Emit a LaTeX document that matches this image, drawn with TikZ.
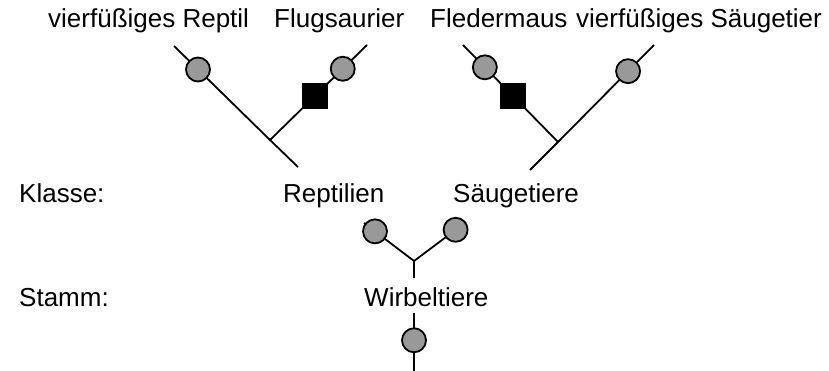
\documentclass[tikz,border=0pt]{standalone}
\usepackage{fontspec}
\setmainfont{Liberation Sans}
\usetikzlibrary{positioning}

\definecolor{merkmalgrau}{RGB}{153,153,153}

\tikzset{
  merkmal/.style={circle, draw=black, line width=1.8pt, fill=merkmalgrau,
    minimum size=24pt, inner sep=0pt},
  neu/.style={rectangle, fill=black, minimum size=26pt, inner sep=0pt},
  taxon/.style={anchor=base west, inner sep=0pt,
    font=\fontsize{26}{31}\selectfont},
  ast/.style={line width=1.8pt}
}

\begin{document}
\begin{tikzpicture}[x=1pt,y=-1pt]
              \useasboundingbox (0,0) rectangle (829,371);

              % Arten
              \node[taxon] (reptil) at (48,28) {vierfüßiges Reptil};
              \node[taxon] (flugsaurier) at (274,28) {Flugsaurier};
              \node[taxon] (fledermaus) at (430,28) {Fledermaus};
              \node[taxon] (saeuger) at (576,28) {vierfüßiges Säugetier};

              % Klassen und Stamm
              \node[taxon] (klasse) at (19,203) {Klasse:};
              \node[taxon] (reptilien) at (283,203) {Reptilien};
              \node[taxon] (saeugetiere) at (453,203) {Säugetiere};
              \node[taxon] (stamm) at (19,306) {Stamm:};
              \node[taxon] (wirbeltiere) at (364,306) {Wirbeltiere};

              % Enden und Gabelungen
              \coordinate (a1) at (174,46);
              \coordinate (e1) at (367,45);
              \coordinate (j1) at (270,140);
              \coordinate (b1) at (298,167);

              \coordinate (a2) at (463,45);
              \coordinate (e2) at (654,45);
              \coordinate (j2) at (558,142);
              \coordinate (b2) at (530,170);

              \coordinate (l3) at (364,223);
              \coordinate (r3) at (466,222);
              \coordinate (j3) at (414,261);
              \coordinate (b3) at (414,278);

              \coordinate (t4) at (414,313);
              \coordinate (b4) at (414,371);

              \begin{scope}[ast]
                  \draw (a1) -- node[merkmal, pos=0.25] (k1) {} (j1) -- (b1);
                  \draw (j1) -- node[neu, pos=0.46] (q1) {}
                      node[merkmal, pos=0.75] (k2) {} (e1);

                  \draw (a2) -- node[merkmal, pos=0.23] (k3) {}
                      node[neu, pos=0.53] (q2) {} (j2);
                  \draw (e2) -- node[merkmal, pos=0.27] (k4) {} (j2) -- (b2);

                  \draw (l3) -- node[merkmal, pos=0.22] (k5) {} (j3);
                  \draw (r3) -- node[merkmal, pos=0.2] (k6) {} (j3) -- (b3);

                  \draw (t4) -- node[merkmal, pos=0.47] (k7) {} (b4);
              \end{scope}

          \end{tikzpicture}
\end{document}
